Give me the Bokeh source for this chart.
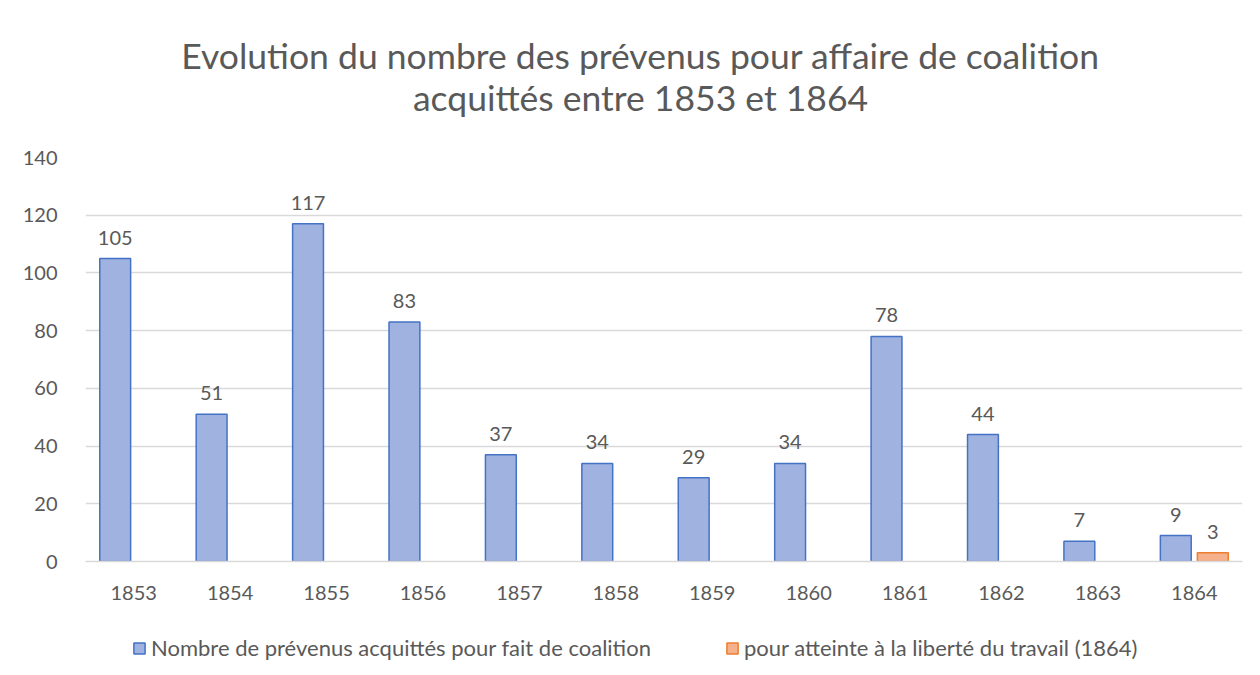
from bokeh.plotting import figure
from bokeh.models import ColumnDataSource, Range1d, FactorRange, Legend, LegendItem
from bokeh.layouts import column
from bokeh.transform import dodge
from bokeh.core.properties import value
from bokeh.embed import file_html
from bokeh.resources import INLINE

years = ["1853", "1854", "1855", "1856", "1857", "1858", "1859", "1860", "1861", "1862", "1863", "1864"]
coalition = [105, 51, 117, 83, 37, 34, 29, 34, 78, 44, 7, 9]
liberte_years = ["1864"]
liberte = [3]

title_lines = ["Evolution du nombre des prévenus pour affaire de coalition", "acquittés entre 1853 et 1864"]
series_names = ["Nombre de prévenus acquittés pour fait de coalition", "pour atteinte à la liberté du travail (1864)"]

FONT = "Lato"
GRAY = "#595959"
BLUE_FILL, BLUE_LINE = "#a0b2e0", "#4472c4"
ORANGE_FILL, ORANGE_LINE = "#f5b08c", "#ed7d31"

src1 = ColumnDataSource(dict(x=years, y=coalition, lbl=[str(v) for v in coalition]))
src2 = ColumnDataSource(dict(x=liberte_years, y=liberte, lbl=[str(v) for v in liberte]))

W = 1252
BL, BR = 85, 10  # frame borders shared by all stacked figures

# ---- title strip (frame in pixel units, aligned with main frame) ----
TH = 142
tf = figure(width=W, height=TH, x_range=Range1d(BL, W - BR), y_range=Range1d(0, TH),
            x_axis_type=None, y_axis_type=None, output_backend="svg", toolbar_location=None,
            min_border_left=BL, min_border_right=BR, min_border_top=0, min_border_bottom=0)
tf.outline_line_color = None
tf.grid.visible = False
tsrc = ColumnDataSource(dict(x=[640, 640], y=[TH - 55, TH - 97], t=title_lines))
tf.text(x="x", y="y", text="t", source=tsrc, text_align="center", text_baseline="middle",
        text_font=value(FONT), text_font_size="35.5px", text_color=GRAY)

# ---- main chart ----
p = figure(width=W, height=469, x_range=FactorRange(*years), y_range=Range1d(0, 140),
           output_backend="svg", toolbar_location=None,
           min_border_left=BL, min_border_right=BR, min_border_top=15, min_border_bottom=50)
p.outline_line_color = None
p.background_fill_color = "white"
p.border_fill_color = "white"

bw = 0.32
off = 0.192
r1 = p.vbar(x=dodge("x", -off, range=p.x_range), top="y", width=bw, source=src1,
            fill_color=BLUE_FILL, line_color=BLUE_LINE, line_width=1.5)
r2 = p.vbar(x=dodge("x", off, range=p.x_range), top="y", width=bw, source=src2,
            fill_color=ORANGE_FILL, line_color=ORANGE_LINE, line_width=1.5)

p.text(x=dodge("x", -off, range=p.x_range), y="y", text="lbl", source=src1,
       text_align="center", text_baseline="bottom", y_offset=-14,
       text_font=value(FONT), text_font_size="20px", text_color=GRAY)
p.text(x=dodge("x", off, range=p.x_range), y="y", text="lbl", source=src2,
       text_align="center", text_baseline="bottom", y_offset=-14,
       text_font=value(FONT), text_font_size="20px", text_color=GRAY)

p.xgrid.grid_line_color = None
p.ygrid.grid_line_color = "#d9d9d9"
p.ygrid.grid_line_width = 1.3

p.yaxis.axis_line_color = None
p.yaxis.major_tick_line_color = None
p.yaxis.minor_tick_line_color = None
p.yaxis.major_label_text_font = FONT
p.yaxis.major_label_text_font_size = "20px"
p.yaxis.major_label_text_color = GRAY
p.yaxis.major_label_standoff = 22
p.yaxis.ticker = list(range(0, 141, 20))

p.xaxis.axis_line_color = "#d9d9d9"
p.xaxis.axis_line_width = 1.3
p.xaxis.major_tick_line_color = None
p.xaxis.minor_tick_line_color = None
p.xaxis.major_label_text_font = FONT
p.xaxis.major_label_text_font_size = "20px"
p.xaxis.major_label_text_color = GRAY
p.xaxis.major_label_standoff = 18

# ---- legend strip (hidden copies of the series provide the legend swatches) ----
lg = figure(width=W, height=61, x_range=FactorRange(*years), y_range=Range1d(0, 140),
            x_axis_type=None, y_axis_type=None, output_backend="svg", toolbar_location=None,
            min_border_left=BL, min_border_right=BR, min_border_top=0, min_border_bottom=0)
lg.outline_line_color = None
lg.grid.visible = False
d1 = lg.vbar(x="x", top="y", width=bw, source=src1,
             fill_color=BLUE_FILL, line_color=BLUE_LINE, line_width=1.5, visible=False)
d2 = lg.vbar(x="x", top="y", width=bw, source=src2,
             fill_color=ORANGE_FILL, line_color=ORANGE_LINE, line_width=1.5, visible=False)
legend = Legend(items=[LegendItem(label=series_names[0], renderers=[d1]),
                       LegendItem(label=series_names[1], renderers=[d2])],
                orientation="horizontal", location=(47, 11),
                label_text_font=FONT, label_text_font_size="22px", label_text_color=GRAY,
                glyph_width=14, glyph_height=14, spacing=74, label_standoff=5,
                border_line_color=None, background_fill_alpha=0, margin=0, padding=4)
lg.add_layout(legend, "center")

open("out.html", "w").write(file_html(column(tf, p, lg, spacing=0), INLINE))
